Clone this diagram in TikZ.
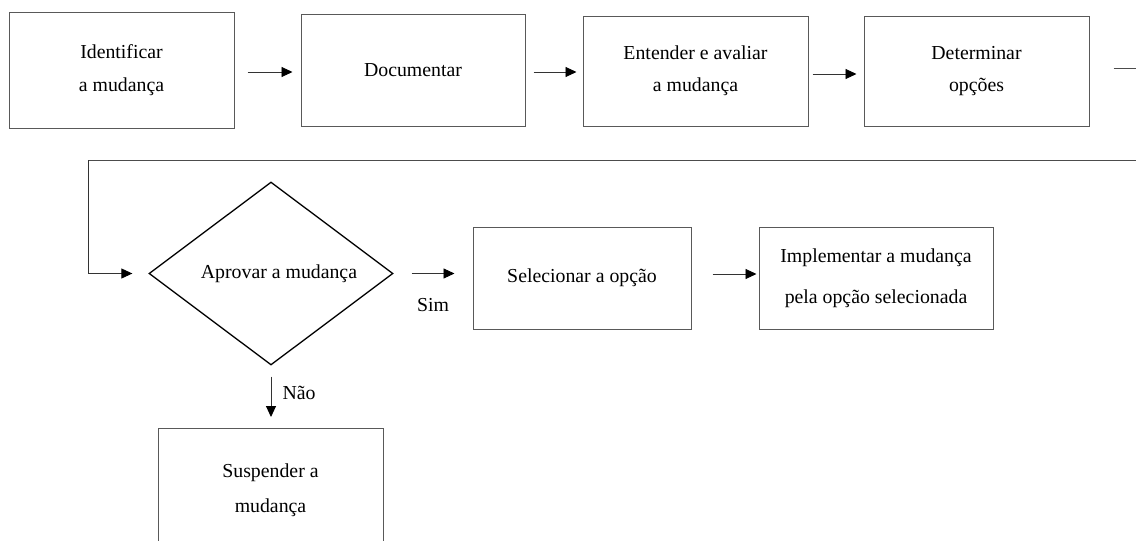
\documentclass[tikz,border=0pt]{standalone}
\usepackage{fontspec}
\setmainfont{Liberation Serif}
\usetikzlibrary{shapes.geometric,arrows.meta}
\begin{document}
\begin{tikzpicture}[x=1pt,y=-1pt,
  every node/.style={font=\fontsize{19.8}{24}\selectfont, text=black},
  stepbox/.style={draw=black!65, line width=1pt, rectangle, inner sep=0pt, align=center},
  decision/.style={draw=black, line width=1.3pt, diamond, aspect=1.33, inner sep=0pt,
    minimum width=244pt, minimum height=183pt},
  arr/.style={draw=black!80, line width=0.9pt, -{Triangle[length=11pt,width=10pt,color=black]}},
  line/.style={draw=black!70, line width=1pt}]
\useasboundingbox (0,0) rectangle (1136,541);
\clip (0,0) rectangle (1136,541);
\fill[white] (0,0) rectangle (1136,541);

\node[stepbox, minimum width=225pt, minimum height=116pt] (b1) at (121.5,70) {Identificar\\[9pt]a mudança};
\node[stepbox, minimum width=224pt, minimum height=112pt] (b2) at (413,70) {Documentar};
\node[stepbox, minimum width=225pt, minimum height=110pt] (b3) at (695.5,71) {Entender e avaliar\\[8pt]a mudança};
\node[stepbox, minimum width=225pt, minimum height=110pt] (b4) at (976.5,71) {Determinar\\[8pt]opções};

\node[decision] (d) at (271,273.5) {\hspace*{16pt}Aprovar a mudança};
\node[stepbox, minimum width=218pt, minimum height=102pt] (sel) at (582,278) {Selecionar a opção};
\node[stepbox, minimum width=234pt, minimum height=102pt] (impl) at (876,278) {Implementar a mudança\\[17pt]pela opção selecionada};
\node[stepbox, anchor=north, minimum width=225pt, minimum height=124pt] (susp) at (270.5,428) {Suspender a\\[11pt]mudança};

\coordinate (r1) at (1160,68);
\coordinate (r2) at (88,160);

\draw[arr, shorten <=13pt, shorten >=8pt] ([yshift=-2pt]b1.east) -- ([yshift=-2pt]b2.west);
\draw[arr, shorten <=8pt, shorten >=6pt] ([yshift=-2pt]b2.east) -- ([yshift=-1pt]b3.west);
\draw[arr, shorten <=4pt, shorten >=7pt] ([yshift=-3pt]b3.east) -- ([yshift=-3pt]b4.west);

\draw[line] ([xshift=24pt,yshift=3pt]b4.east) -- (r1) |- (r2);
\draw[arr, shorten >=16pt] (r2) |- (d.west);

\draw[arr, shorten <=18pt, shorten >=18pt] (d.east) -- (d.east -| sel.west)
  node[midway, yshift=-32pt] {Sim};
\draw[arr, shorten <=21pt, shorten >=2pt] ([yshift=4pt]sel.east) -- ([yshift=4pt]impl.west);
\draw[arr, shorten <=11pt, shorten >=11pt] (d.south) -- (d.south |- susp.north)
  node[midway, xshift=28pt, yshift=4pt] {Não};
\end{tikzpicture}
\end{document}
